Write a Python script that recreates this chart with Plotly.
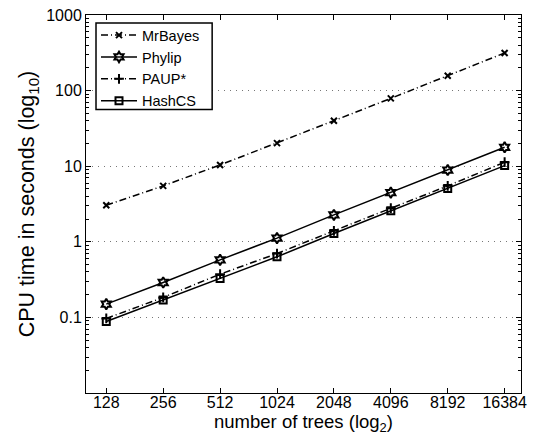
import plotly.graph_objects as go

# number of trees processed
trees = [128, 256, 512, 1024, 2048, 4096, 8192, 16384]

# CPU time in seconds per method
mrbayes = [3.05, 5.5, 10.4, 20.2, 40.0, 79.0, 157.0, 315.0]
phylip = [0.150, 0.290, 0.578, 1.12, 2.27, 4.48, 8.9, 17.8]
paup = [0.097, 0.184, 0.374, 0.70, 1.40, 2.79, 5.5, 11.3]
hashcs = [0.0886, 0.170, 0.328, 0.634, 1.29, 2.57, 5.06, 10.2]

x_tick_text = [str(t) for t in trees]

dashdot = "7px,3px,1px,3px"
font = "Liberation Sans, Arial, Helvetica, sans-serif"

series = [
    ("MrBayes", mrbayes, dashdot, "x-thin-open", 6),
    ("Phylip", phylip, "solid", "hexagram-open", 8),
    ("PAUP*", paup, dashdot, "cross-thin-open", 7),
    ("HashCS", hashcs, "solid", "square-open", 7),
]

fig = go.Figure()
for name, vals, dash, sym, size in series:
    fig.add_trace(go.Scatter(
        x=trees, y=vals, name=name, mode="lines+markers",
        line=dict(color="black", width=1.5, dash=dash),
        marker=dict(symbol=sym, size=size, color="black",
                    line=dict(color="black", width=2)),
    ))

# legend frame, drawn as a white box so the entries sit on a clean background
fig.add_shape(
    type="rect", xref="paper", yref="paper",
    x0=0.023, x1=0.290, y0=0.750, y1=0.979,
    line=dict(color="black", width=1.5), fillcolor="white", layer="above",
)

fig.update_layout(
    width=534, height=444,
    margin=dict(l=86, r=7, t=14, b=51),
    paper_bgcolor="white", plot_bgcolor="white",
    font=dict(family=font, size=16, color="black"),
    showlegend=True,
    legend=dict(
        x=0.023, y=0.989, xanchor="left", yanchor="top",
        bgcolor="rgba(0,0,0,0)", borderwidth=0,
        font=dict(size=14.5), tracegroupgap=0, itemwidth=36,
    ),
)

fig.update_xaxes(
    type="log", range=[2.0, 4.301],
    tickmode="array", tickvals=trees, ticktext=x_tick_text,
    ticks="inside", ticklen=5, tickcolor="black",
    ticklabelstandoff=-5,
    showline=True, linecolor="black", linewidth=1, mirror="ticks",
    showgrid=False, zeroline=False,
    title=dict(text="number of trees (log<sub>2</sub>)", font=dict(size=18.5), standoff=0),
)

fig.update_yaxes(
    type="log", range=[-1.999, 3.0],
    dtick=1, exponentformat="none",
    ticks="inside", ticklen=5, tickcolor="black",
    minor=dict(ticks="inside", ticklen=3, tickcolor="black", dtick="D1", showgrid=False),
    showline=True, linecolor="black", linewidth=1, mirror="ticks",
    showgrid=True, gridcolor="#777777", griddash="1px,5px", gridwidth=1,
    zeroline=False,
    title=dict(text="CPU time in seconds (log<sub>10</sub>)", font=dict(size=21.5), standoff=5),
)

fig.write_html("out.html")
